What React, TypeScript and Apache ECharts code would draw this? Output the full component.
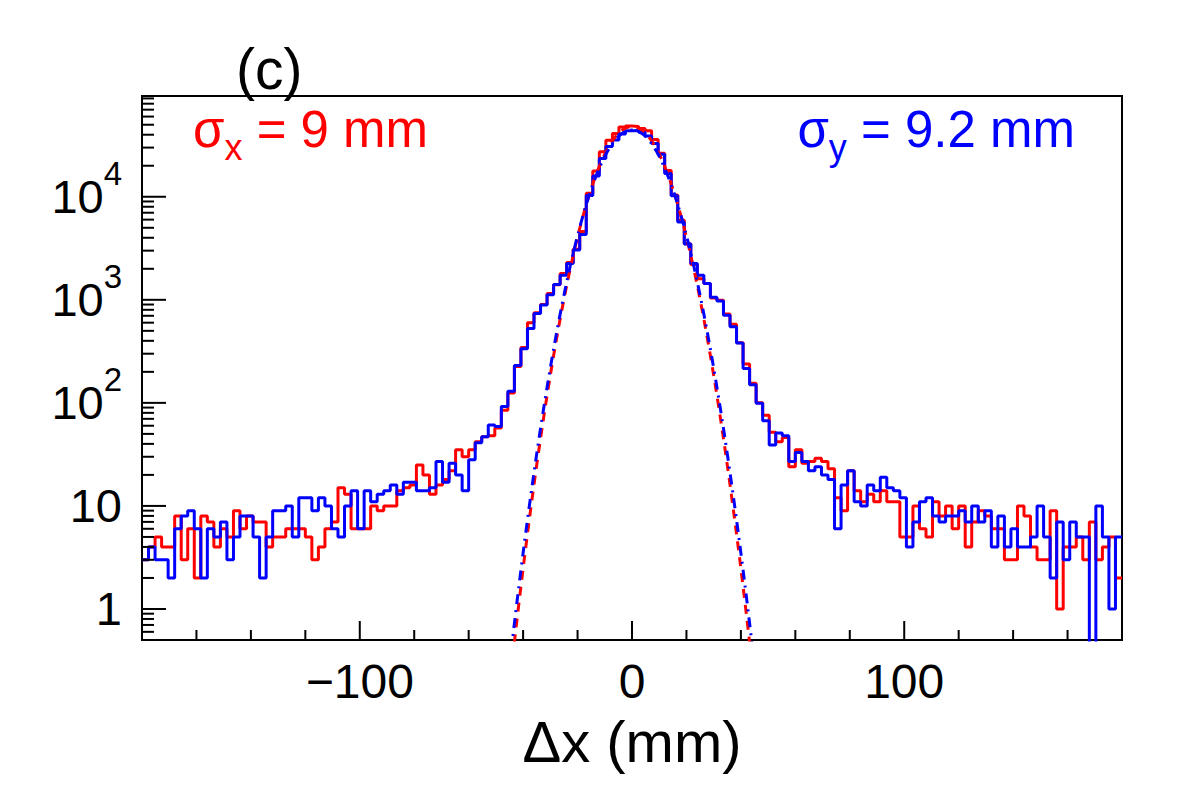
import React, { useEffect, useRef } from "react";
import * as echarts from "echarts";

const FONT = "'Liberation Sans', Arial, Helvetica, sans-serif";
const RED = "#ff0000";
const BLUE = "#0000ff";

// Histogram binning (mm)
const X_MIN = -180;
const X_MAX = 180;
const BIN_WIDTH = 2.4;

// Vertical (log) range
const Y_MIN = 0.5;
const Y_MAX = 95000;
// empty bins are drawn down below the frame
const EMPTY_BIN_LEVEL = 0.01;

// Entries per 2.4 mm bin, Δx residuals (red)
const countsDx: number[] = [
  3, 4, 5, 4, 4, 8, 3, 6, 2, 8,
  7, 4, 6, 5, 9, 6, 8, 7, 7, 4,
  5, 5, 6, 6, 6, 5, 3, 4, 6, 7,
  15, 13, 6, 6, 6, 10, 9, 10, 10, 14,
  15, 16, 25, 20, 13, 16, 18, 22, 35, 30,
  35, 42, 47, 48, 57, 85, 125, 225, 345, 600,
  750, 900, 1150, 1400, 1800, 2300, 3100, 4600, 10800, 17800,
  27300, 35400, 41000, 47600, 48500, 48000, 46000, 43600, 35900, 26400,
  18000, 10400, 5930, 3500, 2200, 1600, 1440, 1040, 993, 730,
  580, 383, 238, 155, 100, 76, 52, 42, 46, 24,
  35, 26, 27, 29, 27, 23, 12, 9, 22, 14,
  11, 13, 11, 14, 11, 11, 5, 5, 10, 6,
  5, 11, 8, 10, 6, 10, 4, 7, 9, 8,
  6, 6, 3, 3, 10, 8, 4, 3, 3, 9,
  1, 4, 4, 5, 3, 7, 3, 4, 5, 2,
];

// Entries per 2.4 mm bin, Δy residuals (blue)
const countsDy: number[] = [
  3, 4, 3, 3, 2, 6, 8, 9, 6, 2,
  6, 5, 7, 3, 5, 8, 8, 5, 2, 5,
  9, 9, 10, 5, 12, 12, 9, 12, 10, 6,
  5, 10, 14, 6, 14, 11, 13, 14, 16, 13,
  17, 17, 14, 14, 15, 27, 17, 26, 20, 14,
  28, 41, 47, 61, 59, 92, 130, 230, 335, 527,
  737, 890, 1120, 1410, 1735, 2250, 3050, 4300, 10300, 15900,
  23500, 30700, 35500, 40700, 43600, 44000, 42200, 38900, 32900, 25800,
  16800, 10200, 5700, 3475, 2255, 1735, 1442, 1060, 975, 710,
  547, 380, 215, 150, 99, 67, 39, 51, 48, 27,
  33, 27, 22, 24, 20, 18, 6, 16, 22, 11,
  10, 16, 14, 19, 15, 14, 12, 4, 7, 11,
  12, 8, 7, 8, 8, 9, 7, 10, 7, 9,
  4, 8, 4, 6, 4, 4, 5, 10, 5, 2,
  7, 3, 7, 5, 5, 0, 10, 5, 1, 5,
];

// Gaussian fits of the core
const fitDx = { amplitude: 48000, mean: 0, sigma: 9 };
const fitDy = { amplitude: 44500, mean: 0, sigma: 9.2 };
const FIT_FROM = -60;
const FIT_TO = 60;
const FIT_STEP = 0.25;

// Axis ticks and labels
const xTickValues = [-160, -140, -120, -100, -80, -60, -40, -20, 0, 20, 40, 60, 80, 100, 120, 140, 160];
const xLabelValues = [-100, 0, 100];
const xLabelTexts = ["\u2212100", "0", "100"];
const yLabelValues = [1, 10, 100, 1000, 10000];
const yLabelTexts = ["1", "10", "10{sup|2}", "10{sup|3}", "10{sup|4}"];
const yDecades = [0.1, 1, 10, 100, 1000, 10000];
const yMinorMantissas = [2, 3, 4, 5, 6, 7, 8, 9];

const sigmaXText = "{m|\u03c3}{s|x}{m| = 9 mm}";
const sigmaYText = "{m|\u03c3}{s|y}{m| = 9.2 mm}";
const panelTag = "(c)";
const xTitle = "\u0394x (mm)";

function histogramSteps(counts: number[]): [number, number][] {
  const level = (c: number) => (c > 0 ? c : EMPTY_BIN_LEVEL);
  const pts: [number, number][] = counts.map((c, i) => [X_MIN + i * BIN_WIDTH, level(c)]);
  pts.push([X_MIN + counts.length * BIN_WIDTH, level(counts[counts.length - 1])]);
  return pts;
}

function gaussianCurve(fit: { amplitude: number; mean: number; sigma: number }): [number, number][] {
  const pts: [number, number][] = [];
  const n = Math.round((FIT_TO - FIT_FROM) / FIT_STEP);
  for (let i = 0; i <= n; i++) {
    const x = FIT_FROM + i * FIT_STEP;
    const u = (x - fit.mean) / fit.sigma;
    pts.push([x, fit.amplitude * Math.exp(-0.5 * u * u)]);
  }
  return pts;
}

function matchIndex(values: number[], v: number): number {
  for (let i = 0; i < values.length; i++) {
    if (Math.abs(v / values[i] - 1) < 1e-6 || (values[i] === 0 && Math.abs(v) < 1e-9)) return i;
  }
  return -1;
}

export default function App() {
  const ref = useRef<HTMLDivElement>(null);

  useEffect(() => {
    if (!ref.current) return;
    const chart = echarts.init(ref.current, undefined, { renderer: "svg" });

    const yMinorTicks: number[] = [];
    yDecades.forEach((d) =>
      yMinorMantissas.forEach((m) => {
        const v = m * d;
        if (v > Y_MIN && v < Y_MAX) yMinorTicks.push(v);
      })
    );

    const xTickData = xTickValues.map((v) => [v, Y_MIN, xLabelValues.includes(v) ? 1 : 0]);
    const yTickData = [
      ...yLabelValues.map((v) => [X_MIN, v, 1]),
      ...yMinorTicks.map((v) => [X_MIN, v, 0]),
    ];

    const option: echarts.EChartsOption = {
      animation: false,
      backgroundColor: "#ffffff",
      grid: {
        left: 142,
        right: 60,
        top: 96,
        bottom: 160,
        show: true,
        borderColor: "#000000",
        borderWidth: 2,
        backgroundColor: "transparent",
      },
      xAxis: {
        type: "value",
        min: X_MIN,
        max: X_MAX,
        interval: 20,
        axisLine: { show: false },
        axisTick: { show: false },
        splitLine: { show: false },
        axisLabel: {
          showMinLabel: false,
          showMaxLabel: false,
          margin: 17,
          color: "#000000",
          fontFamily: FONT,
          fontSize: 48,
          formatter: (v: number) => {
            const i = matchIndex(xLabelValues, v);
            return i >= 0 ? xLabelTexts[i] : "";
          },
        },
        name: xTitle,
        nameLocation: "middle",
        nameGap: 72,
        nameTextStyle: { color: "#000000", fontFamily: FONT, fontSize: 58 },
      },
      yAxis: {
        type: "log",
        logBase: 10,
        min: Y_MIN,
        max: Y_MAX,
        axisLine: { show: false },
        axisTick: { show: false },
        splitLine: { show: false },
        minorTick: { show: false },
        axisLabel: {
          showMinLabel: false,
          showMaxLabel: false,
          margin: 20,
          color: "#000000",
          fontFamily: FONT,
          fontSize: 47,
          formatter: (v: number) => {
            const i = matchIndex(yLabelValues, v);
            return i >= 0 ? yLabelTexts[i] : "";
          },
          rich: {
            sup: { fontSize: 33, fontFamily: FONT, color: "#000000", padding: [0, 0, 46, 0] },
          },
        },
      },
      series: [
        {
          name: "dx",
          type: "line",
          step: "end",
          data: histogramSteps(countsDx),
          symbol: "none",
          clip: true,
          lineStyle: { color: RED, width: 3 },
          z: 2,
        },
        {
          name: "dy",
          type: "line",
          step: "end",
          data: histogramSteps(countsDy),
          symbol: "none",
          clip: true,
          lineStyle: { color: BLUE, width: 3 },
          z: 3,
        },
        {
          name: "fit dx",
          type: "line",
          data: gaussianCurve(fitDx),
          symbol: "none",
          clip: true,
          lineStyle: { color: RED, width: 3, type: [9, 7] },
          z: 4,
        },
        {
          name: "fit dy",
          type: "line",
          data: gaussianCurve(fitDy),
          symbol: "none",
          clip: true,
          lineStyle: { color: BLUE, width: 3, type: [10, 6, 2, 6] },
          z: 5,
        },
        {
          name: "x ticks",
          type: "custom",
          data: xTickData,
          encode: { x: 0, y: 1 },
          clip: false,
          silent: true,
          z: 6,
          renderItem: (_params: any, api: any) => {
            const p = api.coord([api.value(0), api.value(1)]);
            const len = api.value(2) ? 19 : 10;
            return {
              type: "line",
              shape: { x1: p[0], y1: p[1], x2: p[0], y2: p[1] - len },
              style: { stroke: "#000000", lineWidth: 2 },
            };
          },
        },
        {
          name: "y ticks",
          type: "custom",
          data: yTickData,
          encode: { x: 0, y: 1 },
          clip: false,
          silent: true,
          z: 6,
          renderItem: (_params: any, api: any) => {
            const p = api.coord([api.value(0), api.value(1)]);
            const len = api.value(2) ? 24 : 12;
            return {
              type: "line",
              shape: { x1: p[0], y1: p[1], x2: p[0] + len, y2: p[1] },
              style: { stroke: "#000000", lineWidth: 2 },
            };
          },
        },
      ],
      graphic: [
        {
          type: "text",
          x: 236,
          y: 69,
          style: {
            text: panelTag,
            fill: "#000000",
            font: `57px ${FONT}`,
            align: "left",
            verticalAlign: "middle",
          },
        },
        {
          type: "text",
          x: 193,
          y: 129,
          style: {
            text: sigmaXText,
            fill: RED,
            align: "left",
            verticalAlign: "middle",
            rich: {
              m: { fontSize: 51, fontFamily: FONT, fill: RED },
              s: { fontSize: 36, fontFamily: FONT, fill: RED, padding: [36, 0, 0, 0] },
            },
          } as any,
        },
        {
          type: "text",
          x: 1075,
          y: 129,
          style: {
            text: sigmaYText,
            fill: BLUE,
            align: "right",
            verticalAlign: "middle",
            rich: {
              m: { fontSize: 51, fontFamily: FONT, fill: BLUE },
              s: { fontSize: 36, fontFamily: FONT, fill: BLUE, padding: [36, 0, 0, 0] },
            },
          } as any,
        },
      ],
    };

    chart.setOption(option);
    return () => chart.dispose();
  }, []);

  return (
    <div
      ref={ref}
      style={{ position: "absolute", left: 0, top: 0, width: 1182, height: 800, background: "#ffffff" }}
    />
  );
}
